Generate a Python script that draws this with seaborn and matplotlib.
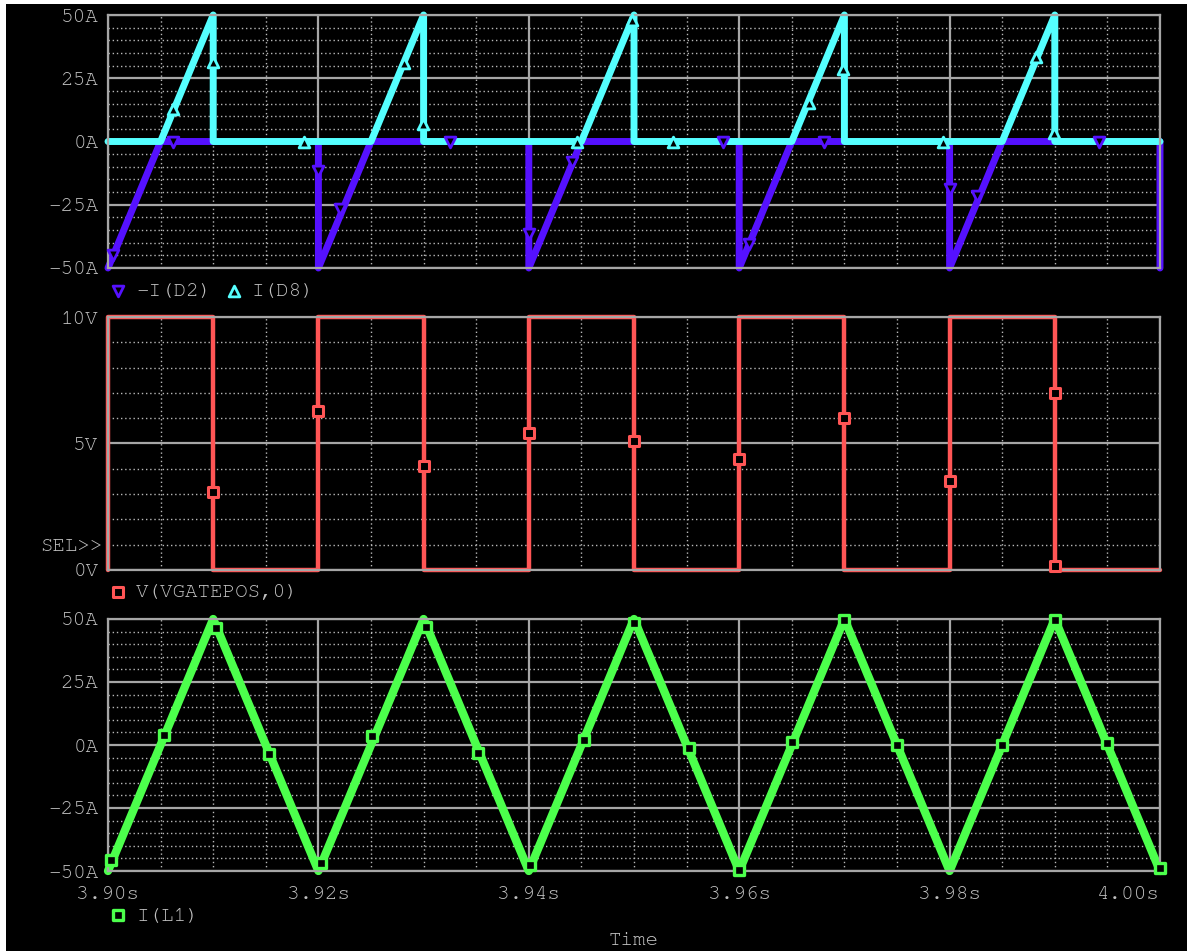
import matplotlib
matplotlib.use('Agg')
import matplotlib.pyplot as plt
import numpy as np
import seaborn as sns
from matplotlib.patches import Rectangle

# ---- data read from the PSpice screen ----
# top panel: -I(D2) and I(D8) waveform corners
d2_t = [3.900, 3.905, 3.920, 3.920, 3.925, 3.940, 3.940, 3.945, 3.960, 3.960,
        3.965, 3.980, 3.980, 3.985, 4.000, 4.000]
d2_v = [-50, 0, 0, -50, 0, 0, -50, 0, 0, -50, 0, 0, -50, 0, 0, -50]
d8_t = [3.900, 3.905, 3.910, 3.910, 3.925, 3.930, 3.930, 3.945, 3.950, 3.950,
        3.965, 3.970, 3.970, 3.985, 3.990, 3.990, 4.000]
d8_v = [0, 0, 50, 0, 0, 50, 0, 0, 50, 0, 0, 50, 0, 0, 50, 0, 0]
# trace markers
d2_mark_t = [3.9005, 3.9062, 3.9200, 3.9221, 3.9325, 3.9400, 3.9441, 3.9585,
             3.9609, 3.9681, 3.9800, 3.9826, 3.9942]
d2_mark_v = [-45, 0, -11.6, -26.7, 0, -36.6, -8.3, 0, -40.5, 0, -18.8, -21.4, 0]
d8_mark_t = [3.9062, 3.9100, 3.9186, 3.9281, 3.9299, 3.9446, 3.9498, 3.9537,
             3.9666, 3.9699, 3.9794, 3.9882, 3.9899]
d8_mark_v = [12.8, 31.6, 0, 31, 7, 0, 48, 0, 15.4, 28.5, 0, 33.4, 3.5]

# middle panel: V(VGATEPOS,0)
vg_t = [3.90, 3.90, 3.91, 3.91, 3.92, 3.92, 3.93, 3.93, 3.94, 3.94, 3.95,
        3.95, 3.96, 3.96, 3.97, 3.97, 3.98, 3.98, 3.99, 3.99, 4.00]
vg_v = [0, 10, 10, 0, 0, 10, 10, 0, 0, 10, 10, 0, 0, 10, 10, 0, 0, 10, 10, 0, 0]
vg_mark_t = [3.91, 3.92, 3.93, 3.94, 3.95, 3.96, 3.97, 3.98, 3.99, 3.99]
vg_mark_v = [3.1, 6.3, 4.1, 5.4, 5.1, 4.4, 6.0, 3.5, 7.0, 0.15]

# bottom panel: I(L1)
il_t = [3.90, 3.91, 3.92, 3.93, 3.94, 3.95, 3.96, 3.97, 3.98, 3.99, 4.00]
il_v = [-50, 50, -50, 50, -50, 50, -50, 50, -50, 50, -50]
il_mark_t = [3.9003, 3.9053, 3.9103, 3.9153, 3.9202, 3.9251, 3.9302, 3.9352,
             3.9401, 3.9452, 3.9500, 3.9552, 3.9600, 3.9650, 3.9700, 3.9750,
             3.9850, 3.9900, 3.9950, 4.0000]
il_mark_v = [-45.5, 3.8, 46.4, -3.4, -47, 3.6, 47, -3, -47.8, 2, 48.4, -1,
             -49.5, 1, 49.5, 0, 0, 49.5, 0.6, -49]

x_ticks = [3.90, 3.92, 3.94, 3.96, 3.98, 4.00]
x_labels = ['3.90s', '3.92s', '3.94s', '3.96s', '3.98s', '4.00s']
amp_ticks = [-50, -25, 0, 25, 50]
amp_labels = ['-50A', '-25A', '0A', '25A', '50A']
volt_ticks = [0, 5, 10]
volt_labels = ['0V', '5V', '10V']

sns.set_style('dark')
plt.rcParams['font.family'] = ['Courier New', 'Nimbus Mono PS', 'FreeMono',
                               'Liberation Mono', 'DejaVu Sans Mono']
FS = 15
plt.rcParams['font.size'] = FS

TXT = '#c0c0c0'
GRID = '#a6a6a6'
PURPLE = '#5511ff'
CYAN = '#55ffff'
RED = '#ff5555'
GREEN = '#4cff4c'

fig = plt.figure(figsize=(11.87, 9.51), dpi=100, facecolor='white')
fig.patches.append(Rectangle((6 / 1187, 0), 1, 1 - 4 / 951, transform=fig.transFigure,
                             facecolor='black', edgecolor='none', zorder=-10))

L, W = 108 / 1187, 1052 / 1187
ax1 = fig.add_axes([L, 1 - 268 / 951, W, 253 / 951])
ax2 = fig.add_axes([L, 1 - 570 / 951, W, 253 / 951])
ax3 = fig.add_axes([L, 1 - 871 / 951, W, 252 / 951])


def style(ax, ylim, yt, yl, ystep, show_x):
    ax.set_facecolor('black')
    ax.set_xlim(3.90, 4.00)
    ax.set_ylim(*ylim)
    ax.set_xticks(x_ticks)
    ax.set_xticklabels(x_labels if show_x else [])
    xminor = [3.90 + 0.005 * i for i in range(21) if i % 4 != 0]
    ax.set_xticks(xminor, minor=True)
    ax.set_yticks(yt)
    ax.set_yticklabels(yl)
    yminor = [v for v in np.arange(ylim[0], ylim[1] + 1e-9, ystep)
              if min(abs(v - t) for t in yt) > 1e-6]
    ax.set_yticks(yminor, minor=True)
    ax.grid(which='major', color=GRID, lw=1.6, ls='-')
    ax.grid(which='minor', color='#b8b8b8', lw=1.0, ls=(0, (1, 2)))
    ax.set_axisbelow(True)
    for s in ax.spines.values():
        s.set_color(GRID)
        s.set_linewidth(1.6)
    ax.tick_params(axis='y', which='major', colors=GRID, length=6, width=1.5,
                   labelcolor=TXT, pad=1)
    ax.tick_params(axis='x', which='major', colors=GRID, length=6 if show_x else 0,
                   width=1.5, labelcolor=TXT, pad=5)
    ax.tick_params(which='minor', length=0)
    ax.set_xlabel('')
    ax.set_ylabel('')


def legend(ax, y, ncol=1):
    ax.legend(loc='upper left', bbox_to_anchor=(0.0, y), ncol=ncol, frameon=False,
              borderaxespad=0, borderpad=0, handlelength=1.0, handletextpad=0.35,
              columnspacing=0.6, labelcolor=TXT, fontsize=FS)


# top panel
sns.lineplot(x=d2_t, y=d2_v, ax=ax1, color=PURPLE, lw=5, sort=False,
             estimator=None, clip_on=False)
sns.lineplot(x=d8_t, y=d8_v, ax=ax1, color=CYAN, lw=5, sort=False,
             estimator=None, clip_on=False)
sns.scatterplot(x=d2_mark_t, y=d2_mark_v, ax=ax1, marker='v', s=60, color='black',
                edgecolor=PURPLE, linewidth=2, zorder=5, label='-I(D2)', clip_on=False)
sns.scatterplot(x=d8_mark_t, y=d8_mark_v, ax=ax1, marker='^', s=60, color='black',
                edgecolor=CYAN, linewidth=2, zorder=5, label='I(D8)', clip_on=False)
style(ax1, (-50, 50), amp_ticks, amp_labels, 5, False)
legend(ax1, -0.055, ncol=2)

# middle panel
sns.lineplot(x=vg_t, y=vg_v, ax=ax2, color=RED, lw=3.2, sort=False,
             estimator=None, clip_on=False)
sns.scatterplot(x=vg_mark_t, y=vg_mark_v, ax=ax2, marker='s', s=50, color='black',
                edgecolor=RED, linewidth=2.2, zorder=5, label='V(VGATEPOS,0)', clip_on=False)
style(ax2, (0, 10), volt_ticks, volt_labels, 1, False)
legend(ax2, -0.05)
ax2.text(-0.0057, 0.091, 'SEL>>', transform=ax2.transAxes, ha='right', va='center',
         color=TXT, fontsize=FS)

# bottom panel
sns.lineplot(x=il_t, y=il_v, ax=ax3, color=GREEN, lw=6, sort=False,
             estimator=None, clip_on=False)
sns.scatterplot(x=il_mark_t, y=il_mark_v, ax=ax3, marker='s', s=60, color='black',
                edgecolor=GREEN, linewidth=2.4, zorder=5, label='I(L1)', clip_on=False)
style(ax3, (-50, 50), amp_ticks, amp_labels, 5, True)
ax3.get_xticklabels()[-1].set_horizontalalignment('right')
ax3.get_xticklabels()[-1].set_x(4.0)
legend(ax3, -0.14)
ax3.set_xlabel('Time', color=TXT, fontsize=FS, labelpad=21)

fig.savefig('out.png', dpi=100, facecolor=fig.get_facecolor())
